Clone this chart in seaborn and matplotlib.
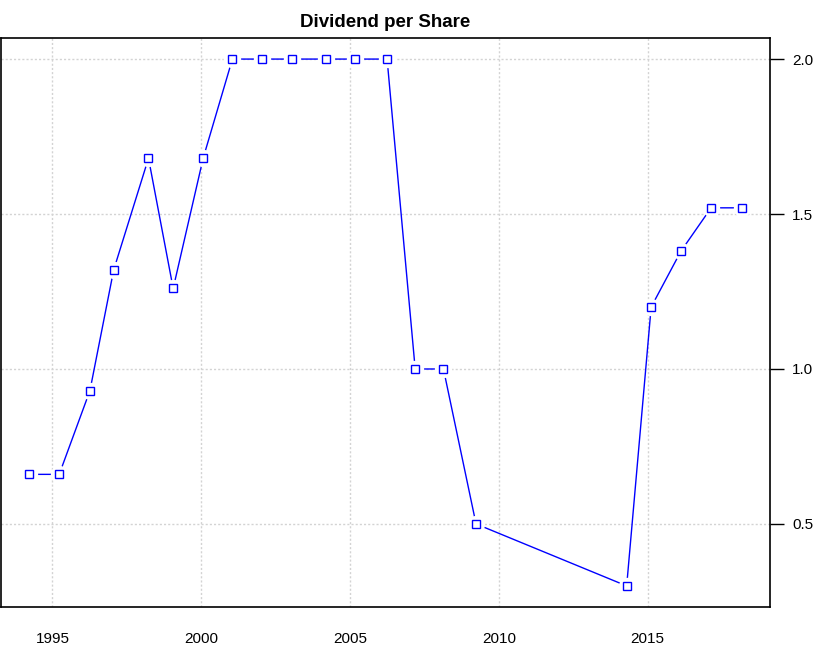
import pandas as pd
import matplotlib
matplotlib.use("Agg")
import matplotlib.pyplot as plt
import matplotlib.dates as mdates
import seaborn as sns

# Dividend per share
dates = ["1994-03-25", "1995-03-25", "1996-04-05", "1997-01-22", "1998-03-25",
         "1999-01-22", "2000-01-25", "2001-01-18", "2002-01-15", "2003-01-18",
         "2004-03-10", "2005-03-08", "2006-04-01", "2007-03-12", "2008-02-22",
         "2009-03-28", "2014-04-20", "2015-02-15", "2016-02-15", "2017-02-20",
         "2018-02-28"]
dividend = [0.66, 0.66, 0.93, 1.32, 1.68, 1.26, 1.68, 2.0, 2.0, 2.0,
            2.0, 2.0, 2.0, 1.0, 1.0, 0.5, 0.30, 1.20, 1.38, 1.52, 1.52]
y_ticks = [0.5, 1.0, 1.5, 2.0]
x_years = [1995, 2000, 2005, 2010, 2015]

df = pd.DataFrame({"date": pd.to_datetime(dates), "dps": dividend})

sns.set_style("white")
plt.rcParams["font.family"] = ["Liberation Sans", "DejaVu Sans"]
plt.rcParams["text.color"] = "black"

fig = plt.figure(figsize=(8.28, 6.46), dpi=100)
ax = fig.add_axes([1 / 828, 1 - 607 / 646, 769 / 828, 569 / 646])

# R-style type="b": line with gaps around the points
sns.lineplot(data=df, x="date", y="dps", color="blue", linewidth=1, ax=ax, zorder=2)
ax.plot(df["date"], df["dps"], linestyle="none", marker="o", markersize=12.5,
        markerfacecolor="white", markeredgecolor="none", zorder=3)
ax.plot(df["date"], df["dps"], linestyle="none", marker="s", markersize=5.5,
        markerfacecolor="white", markeredgecolor="blue", markeredgewidth=1, zorder=4)

# axis limits like R (4% padding)
xn = mdates.date2num(df["date"])
pad = (xn.max() - xn.min()) * 0.04
ax.set_xlim(xn.min() - pad, xn.max() + pad)
ypad = (max(dividend) - min(dividend)) * 0.04
ax.set_ylim(min(dividend) - ypad, max(dividend) + ypad)

xt = mdates.date2num(pd.to_datetime([f"{y}-01-01" for y in x_years]))
ax.set_xticks(xt)
ax.set_xticklabels([str(y) for y in x_years])
ax.set_yticks(y_ticks)
ax.set_yticklabels([f"{v:.1f}" for v in y_ticks])
ax.yaxis.tick_right()
ax.tick_params(axis="both", direction="out", length=10, width=1, colors="black",
               labelcolor="black", labelsize=11)
ax.tick_params(axis="x", pad=8)
ax.tick_params(axis="y", pad=6)

ax.grid(True, color="#D3D3D3", linestyle=(0, (1.5, 1.5)), linewidth=1)
ax.set_axisbelow(True)
for s in ax.spines.values():
    s.set_color("black")
    s.set_linewidth(1.2)

ax.set_xlabel("")
ax.set_ylabel("")
ax.set_title("Dividend per Share", fontsize=13.5, fontweight="bold", pad=8,
             color="black")

fig.savefig("out.png", dpi=100)
